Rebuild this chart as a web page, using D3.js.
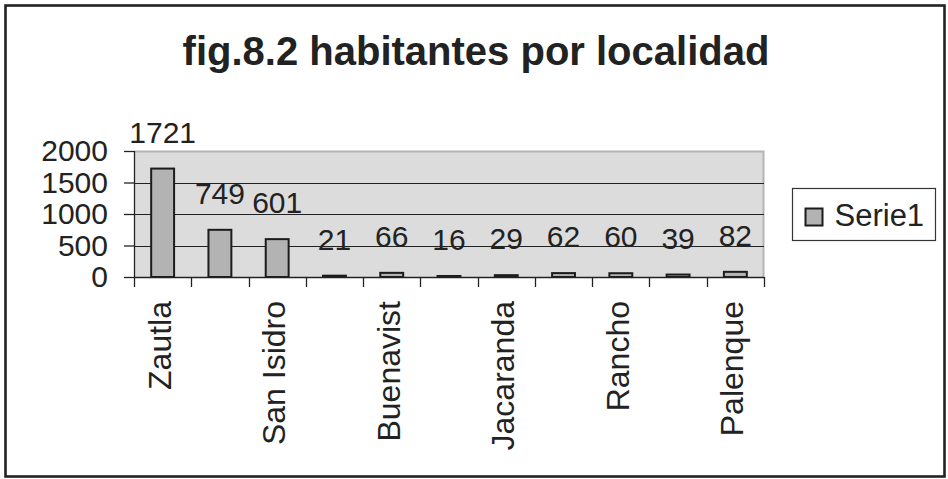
<!DOCTYPE html>
<html>
<head>
<meta charset="utf-8">
<script src="https://cdn.jsdelivr.net/npm/d3@7"></script>
<style>
  body { margin: 0; background: #fff; }
  svg { display: block; font-family: "Liberation Sans", Arial, sans-serif; }
  .axis text { fill: #222; }
  .y-axis text { font-size: 30px; }
  .x-label { font-size: 32px; }
  .axis path, .axis line { stroke: #222; stroke-width: 1.3; }
  .grid-line { stroke: #222; stroke-width: 1.2; }
  .bar { fill: #b3b3b3; stroke: #1c1c1c; stroke-width: 2; }
  .bar-label { font-size: 30px; fill: #222; }
</style>
</head>
<body>
<svg id="chart"></svg>
<script>
// Data (labels of every second locality are not shown there)
const localidades = ['Zautla', '', 'San Isidro', '', 'Buenavist', '', 'Jacaranda', '', 'Rancho', '', 'Palenque'];
const habitantes = [1721, 749, 601, 21, 66, 16, 29, 62, 60, 39, 82];
const yTicks = [0, 500, 1000, 1500, 2000];
const chartTitle = 'fig.8.2 habitantes por localidad';
const seriesName = 'Serie1';

class BarChart {

  constructor(_config, data) {
    this.config = {
      parentElement: _config.parentElement,
      containerWidth: _config.containerWidth || 948,
      containerHeight: _config.containerHeight || 479,
      margin: _config.margin || {top: 151, right: 184, bottom: 202, left: 134}
    }
    this.data = data;
    this.initVis();
  }

  initVis() {
    let vis = this;

    vis.width = vis.config.containerWidth - vis.config.margin.left - vis.config.margin.right;
    vis.height = vis.config.containerHeight - vis.config.margin.top - vis.config.margin.bottom;

    vis.xScale = d3.scaleBand()
        .range([0, vis.width])
        .paddingInner(0.6)
        .paddingOuter(0.3);

    vis.yScale = d3.scaleLinear()
        .range([vis.height, 0]);

    vis.yAxis = d3.axisLeft(vis.yScale)
        .tickValues(yTicks)
        .tickSize(10)
        .tickPadding(16)
        .tickFormat(d3.format('d'));

    vis.svg = d3.select(vis.config.parentElement)
        .attr('width', vis.config.containerWidth)
        .attr('height', vis.config.containerHeight);

    // Outer frame
    vis.svg.append('rect')
        .attr('x', 5.5)
        .attr('y', 5.5)
        .attr('width', 939)
        .attr('height', 471)
        .attr('fill', '#fff')
        .attr('stroke', '#222')
        .attr('stroke-width', 2.6);

    // Title
    vis.svg.append('text')
        .attr('x', 476)
        .attr('y', 65)
        .attr('text-anchor', 'middle')
        .attr('font-size', 40)
        .attr('font-weight', 'bold')
        .attr('fill', '#222')
        .text(chartTitle);

    vis.chartArea = vis.svg.append('g')
        .attr('transform', `translate(${vis.config.margin.left},${vis.config.margin.top})`);

    // Plot background with the grey border on top and right
    vis.chartArea.append('rect')
        .attr('width', vis.width)
        .attr('height', vis.height)
        .attr('fill', '#dcdcdc');

    vis.chartArea.append('path')
        .attr('d', `M0,0.5H${vis.width - 0.5}V${vis.height}`)
        .attr('fill', 'none')
        .attr('stroke', '#b4b4b4')
        .attr('stroke-width', 2);

    vis.grid = vis.chartArea.append('g');
    vis.chart = vis.chartArea.append('g');
    vis.labels = vis.chartArea.append('g');

    vis.xAxisG = vis.chartArea.append('g')
        .attr('class', 'axis x-axis')
        .attr('transform', `translate(0,${vis.height})`);

    vis.yAxisG = vis.chartArea.append('g')
        .attr('class', 'axis y-axis');

    // Legend
    const legend = vis.svg.append('g')
        .attr('transform', 'translate(792.5,188.5)');

    legend.append('rect')
        .attr('width', 143)
        .attr('height', 52)
        .attr('fill', '#fff')
        .attr('stroke', '#333')
        .attr('stroke-width', 1.2);

    legend.append('rect')
        .attr('class', 'bar')
        .attr('x', 13)
        .attr('y', 20)
        .attr('width', 17)
        .attr('height', 17);

    legend.append('text')
        .attr('x', 42)
        .attr('y', 37)
        .attr('font-size', 31)
        .attr('fill', '#222')
        .text(seriesName);
  }

  updateVis() {
    let vis = this;

    vis.xValue = d => d.index;
    vis.yValue = d => d.value;

    vis.xScale.domain(vis.data.map(vis.xValue));
    vis.yScale.domain([0, 2000]);

    vis.renderVis();
  }

  renderVis() {
    let vis = this;

    const step = vis.xScale.step();
    const halfGap = step * vis.xScale.paddingInner() / 2;

    // Horizontal gridlines (the 2000 line is the plot border)
    vis.grid.selectAll('.grid-line')
        .data(yTicks.filter(d => d > 0 && d < 2000))
        .join('line')
        .attr('class', 'grid-line')
        .attr('x1', 0)
        .attr('x2', vis.width)
        .attr('y1', d => Math.round(vis.yScale(d)) + 0.5)
        .attr('y2', d => Math.round(vis.yScale(d)) + 0.5);

    vis.chart.selectAll('.bar')
        .data(vis.data)
        .join('rect')
        .attr('class', 'bar')
        .attr('x', d => vis.xScale(vis.xValue(d)))
        .attr('width', vis.xScale.bandwidth())
        .attr('y', d => vis.yScale(vis.yValue(d)))
        .attr('height', d => vis.height - vis.yScale(vis.yValue(d)));

    vis.labels.selectAll('.bar-label')
        .data(vis.data)
        .join('text')
        .attr('class', 'bar-label')
        .attr('text-anchor', 'middle')
        .attr('x', d => vis.xScale(vis.xValue(d)) + vis.xScale.bandwidth() / 2)
        .attr('y', d => vis.yScale(vis.yValue(d)) - 26)
        .text(d => d.value);

    // X axis: ticks sit between the categories, labels rotated
    vis.xAxisG.append('line')
        .attr('x1', 0)
        .attr('x2', vis.width)
        .attr('y1', 0.5)
        .attr('y2', 0.5);

    const boundaries = d3.range(vis.data.length + 1)
        .map(i => i < vis.data.length ? vis.xScale(i) - halfGap : vis.width);

    vis.xAxisG.selectAll('.x-tick')
        .data(boundaries)
        .join('line')
        .attr('class', 'x-tick')
        .attr('x1', d => Math.round(d) + 0.5)
        .attr('x2', d => Math.round(d) + 0.5)
        .attr('y1', 0)
        .attr('y2', 10);

    vis.xAxisG.selectAll('.x-label')
        .data(vis.data.filter(d => d.name !== ''))
        .join('text')
        .attr('class', 'x-label')
        .attr('text-anchor', 'end')
        .attr('dy', '0.25em')
        .attr('transform', d => `translate(${vis.xScale(vis.xValue(d)) + vis.xScale.bandwidth() / 2},24) rotate(-90)`)
        .text(d => d.name);

    vis.yAxisG.call(vis.yAxis);
    vis.yAxisG.select('.domain').attr('d', `M0.5,0V${vis.height}`);
  }
}

const data = habitantes.map((v, i) => ({index: i, name: localidades[i], value: v}));
const chart = new BarChart({parentElement: '#chart'}, data);
chart.updateVis();
</script>
</body>
</html>
